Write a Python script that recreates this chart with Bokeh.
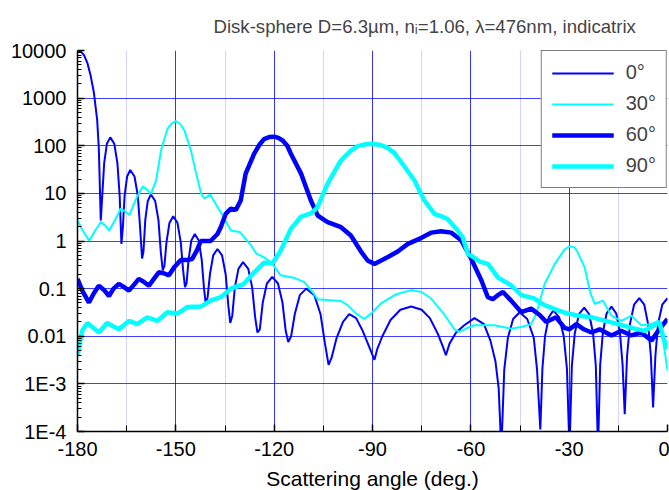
from bokeh.plotting import figure
from bokeh.models import Range1d, FixedTicker, CustomJSTickFormatter, Legend, LegendItem
from bokeh.embed import file_html
from bokeh.resources import INLINE

# ---------------- data ----------------
ang0 = [-180, -179, -178, -177, -176, -175, -174, -173.5, -172.9,
        -172.44, -171.86, -171.04, -170.0, -168.78, -167.82, -167.14, -166.6,
        -166.17, -165.63, -164.87, -163.9, -162.6, -161.6, -160.9, -160.3,
        -159.87, -159.33, -158.57, -157.6, -156.3, -155.3, -154.6, -154.0,
        -153.49, -152.85, -151.95, -150.8, -149.5, -148.5, -147.8, -147.2,
        -146.72, -146.12, -145.28, -144.2, -143.0, -142.1, -141.4, -140.9,
        -140.32, -139.6, -138.6, -137.3, -135.9, -134.8, -134.0, -133.4,
        -132.78, -132.0, -130.9, -129.5, -127.9, -126.7, -125.8, -125.1,
        -124.38, -123.48, -122.22, -120.6, -118.84, -117.46, -116.48, -115.7,
        -114.82, -113.72, -112.18, -110.2, -107.75, -105.85, -104.5, -103.4,
        -102.5, -101.0, -99.0, -97.1, -95.0, -93.0, -91.0, -89.4,
        -88.5, -87.0, -84.5, -81.5, -78.2, -75.0, -72.5, -70.0, -68.5, -67.6,
        -66.5, -64.5, -62.0, -58.9, -56.0, -54.0, -52.5, -51.5, -50.7,
        -49.8, -48.7, -47.1, -45.1, -42.8, -40.8, -39.8, -38.8,
        -38.16, -37.36, -36.24, -34.8, -33.04, -31.66, -30.68, -29.9,
        -29.18, -28.28, -27.02, -25.4, -23.89, -22.71, -21.87, -21.2,
        -20.54, -19.72, -18.58, -17.1, -15.64, -14.51, -13.7, -13.05,
        -12.34, -11.45, -10.2, -8.6, -7.09, -5.91, -5.07, -4.4,
        -3.7, -2.9, -1.6, 0]
val0 = [10000, 9500, 8000, 5500, 3000, 1300, 350, 90, 2.7,
        9, 43, 110, 150, 110, 43, 9, 0.87,
        1.9, 9, 22.6, 31, 22.6, 9, 1.9, 0.43,
        0.6, 2.75, 6.9, 9.5, 6.9, 2.75, 0.6, 0.24,
        0.3, 0.95, 2.4, 3.3, 2.4, 0.95, 0.25, 0.107,
        0.13, 0.4, 1.02, 1.4, 1.02, 0.4, 0.1, 0.05,
        0.065, 0.2, 0.5, 0.68, 0.5, 0.2, 0.045, 0.019,
        0.027, 0.105, 0.26, 0.36, 0.26, 0.105, 0.025, 0.012,
        0.014, 0.051, 0.128, 0.176, 0.128, 0.051, 0.013, 0.0076,
        0.01, 0.029, 0.073, 0.1, 0.073, 0.029, 0.007, 0.0025,
        0.0035, 0.009, 0.02, 0.029, 0.024, 0.013, 0.006, 0.0032,
        0.0055, 0.01, 0.022, 0.036, 0.042, 0.036, 0.024, 0.011, 0.006, 0.004,
        0.007, 0.012, 0.017, 0.024, 0.018, 0.008, 0.003, 0.0008, 0.00004,
        0.002, 0.0093, 0.023, 0.032, 0.023, 0.0093, 0.002, 0.00011,
        0.0021, 0.01, 0.025, 0.035, 0.025, 0.01, 0.0021, 0.00004,
        0.0024, 0.0116, 0.029, 0.04, 0.029, 0.0116, 0.0024, 0.00004,
        0.0025, 0.012, 0.03, 0.042, 0.03, 0.012, 0.0025, 0.00023,
        0.0038, 0.018, 0.046, 0.063, 0.046, 0.018, 0.0038, 0.00032,
        0.0038, 0.018, 0.046, 0.063]

ang30 = [-180, -178.5, -176.4, -174.5, -172.9, -171.5, -170.3, -168.5, -166.8, -165.5,
         -164.2, -162, -160.1, -158.8, -157.6, -156, -154.5, -153.5, -152.5, -151.2,
         -150, -148.7, -147.4, -146.4, -145.4, -143.8, -142.3, -141.3, -139.5, -137.5,
         -135.8, -133.2, -130.5, -127.0, -125.5, -123.0, -121.0, -118.0, -114.0, -110.8,
         -108.0, -106.8, -102.7, -99.6, -97.6, -95.0, -92.5, -90.0, -87.4, -83.0,
         -78.2, -75.0, -72.1, -68.0, -65.0, -63.5, -61.0, -58.9, -52.8, -47.7,
         -44.0, -41.6, -40.0, -37.5, -34.4, -31.5, -30.4, -29.3, -28.3, -27.5,
         -25.3, -23.5, -22.2, -19.7, -17.1, -14.1, -11.0, -8.0, -4.9, -2.9,
         -1.3, 0]
val30 = [2.7, 1.7, 1.02, 1.7, 2.5, 2.1, 1.66, 2.8, 4.8, 4.2,
         3.5, 8, 14, 12, 9.8, 19, 80, 140, 230, 300,
         330, 290, 210, 130, 80, 26, 10, 7.8, 9.4, 5.5,
         3.5, 1.66, 1.55, 0.8, 0.55, 0.45, 0.36, 0.19, 0.17, 0.137,
         0.08, 0.06, 0.057, 0.055, 0.045, 0.03, 0.023, 0.032, 0.049, 0.075,
         0.093, 0.085, 0.062, 0.028, 0.014, 0.0123, 0.015, 0.017, 0.017, 0.0144,
         0.016, 0.018, 0.03, 0.126, 0.33, 0.65, 0.74, 0.77, 0.72, 0.6,
         0.28, 0.08, 0.048, 0.056, 0.027, 0.021, 0.027, 0.017, 0.018, 0.021,
         0.008, 0.0019]

ang60 = [-180, -178.5, -176.5, -175, -173.5, -172, -170.4, -169, -167.4, -166,
         -164.3, -162.8, -161.3, -159.8, -158.2, -156.7, -155.2, -153.7, -152.1, -150.5,
         -148.5, -146.5, -145, -143.5, -142.4, -139.4, -137.3, -136.3, -134.8, -133.2,
         -131.7, -130.2, -128.7, -126.1, -124.5, -123.1, -121.5, -120, -118.7, -117.4,
         -116, -114.9, -111.8, -108.8, -106.7, -103.7, -99.6, -96.6, -93.5, -91.5,
         -89.4, -85.3, -82.3, -79.2, -75.2, -72, -69.1, -66, -63, -60,
         -56.8, -54.8, -53.3, -51.5, -50.2, -47.7, -44.6, -41.6, -39, -37,
         -34, -31.4, -29.9, -27.8, -25.5, -23.2, -20.7, -17.1, -14.1, -11,
         -8, -4.9, -2.5, 0]
val60 = [0.16, 0.09, 0.051, 0.08, 0.115, 0.095, 0.07, 0.1, 0.126, 0.11,
         0.091, 0.12, 0.16, 0.14, 0.115, 0.16, 0.22, 0.21, 0.19, 0.28,
         0.4, 0.4, 0.42, 0.65, 1.0, 1.0, 1.4, 1.95, 3.7, 4.8,
         4.5, 7.1, 26, 68, 105, 138, 152, 155, 146, 129,
         100, 68, 26, 7.1, 3.4, 2.5, 1.95, 1.3, 0.6, 0.39,
         0.33, 0.46, 0.6, 0.87, 1.15, 1.5, 1.6, 1.5, 1.05, 0.44,
         0.15, 0.066, 0.06, 0.075, 0.085, 0.056, 0.032, 0.038, 0.028, 0.02,
         0.025, 0.015, 0.014, 0.018, 0.014, 0.012, 0.014, 0.0104, 0.013, 0.0104,
         0.012, 0.0081, 0.014, 0.023]

ang90 = [-180, -178.6, -177, -175.2, -173.5, -171, -169, -167.4, -164.3, -161.8,
         -158.7, -155.6, -152.6, -149.5, -146.5, -142.4, -139.4, -136.3, -133.2, -129.2,
         -126.1, -123.1, -120.5, -118, -114.9, -111.9, -108.8, -106.8, -103.7, -100,
         -98.6, -96.5, -94.5, -92.3, -90, -87.7, -85.4, -83.3, -81.3, -77.2,
         -74.2, -71.1, -68.5, -67.1, -64, -62.5, -60.9, -59, -57.3, -54.8,
         -51.7, -47.7, -44.6, -40.6, -37.5, -33.4, -30.4, -27, -23, -19,
         -15, -11, -7, -4, -2.5, -1.2, 0]
val90 = [0.0039, 0.013, 0.019, 0.015, 0.012, 0.019, 0.016, 0.014, 0.021, 0.018,
         0.025, 0.021, 0.032, 0.03, 0.041, 0.042, 0.056, 0.066, 0.1, 0.126,
         0.22, 0.35, 0.34, 0.63, 1.8, 3.2, 3.8, 5.1, 16, 45,
         58, 80, 98, 107, 110, 104, 91, 70, 46, 18.6,
         7.1, 3.7, 3.2, 2.9, 1.66, 1.2, 0.54, 0.45, 0.37, 0.33,
         0.17, 0.117, 0.073, 0.062, 0.045, 0.035, 0.03, 0.027, 0.025, 0.021,
         0.018, 0.015, 0.013, 0.017, 0.02, 0.009, 0.0055]

series_names = ["0°", "30°", "60°", "90°"]
x_major = [-180, -150, -120, -90, -60, -30, 0]
x_minor = [-165, -135, -105, -75, -45, -15]
y_major = [1e-4, 1e-3, 1e-2, 1e-1, 1, 10, 100, 1000, 10000]
y_labels = ["1E-4", "1E-3", "0.01", "0.1", "1", "10", "100", "1000", "10000"]
y_minor = [m * 10.0 ** e for e in range(-4, 4) for m in range(2, 10)]

title_text = "Disk-sphere D=6.3\u00b5m, n\u1d62=1.06, \u03bb=476nm, indicatrix"
FONT = "Liberation Sans"

p = figure(frame_width=590, frame_height=381,
           x_range=Range1d(-180, 0), y_range=Range1d(1e-4, 1e4),
           y_axis_type="log", output_backend="svg", toolbar_location=None,
           min_border_left=77, min_border_top=50, min_border_right=2, min_border_bottom=10)

p.title.text = title_text
p.title.align = "left"
p.title.offset = 136
p.title.text_font = FONT
p.title.text_font_size = "18.6px"
p.title.text_font_style = "normal"
p.title.standoff = 27

p.outline_line_color = None
p.background_fill_color = "white"

p.xaxis.ticker = FixedTicker(ticks=x_major, minor_ticks=x_minor)
p.xaxis.formatter = CustomJSTickFormatter(code="return tick.toFixed(0);")
p.yaxis.ticker = FixedTicker(ticks=y_major, minor_ticks=y_minor)
p.yaxis.formatter = CustomJSTickFormatter(args=dict(labels=y_labels),
    code="const e = Math.round(Math.log10(tick)); return labels[e + 4];")

for ax in (p.xaxis[0], p.yaxis[0]):
    ax.axis_line_color = "black"
    ax.axis_line_width = 1.5
    ax.major_tick_line_color = "black"
    ax.major_tick_line_width = 1.5
    ax.minor_tick_line_color = "black"
    ax.minor_tick_line_width = 1
    ax.major_tick_in = 7
    ax.major_tick_out = 0
    ax.minor_tick_in = 4
    ax.minor_tick_out = 0
    ax.major_label_text_font = FONT
    ax.major_label_text_font_size = "20px"
    ax.major_label_text_color = "black"
p.xaxis.minor_tick_in = 6
p.xaxis.major_label_standoff = 10
p.yaxis.major_label_standoff = 11
p.xaxis.axis_label = "Scattering angle (deg.)"
p.xaxis.axis_label_text_font = FONT
p.xaxis.axis_label_text_font_size = "21px"
p.xaxis.axis_label_text_font_style = "normal"
p.xaxis.axis_label_text_color = "black"
p.xaxis.axis_label_standoff = 8

p.xgrid.grid_line_color = "blue"
p.xgrid.grid_line_alpha = 0.8
p.xgrid.grid_line_width = 1
p.xgrid.minor_grid_line_color = "#a6a6ff"
p.xgrid.minor_grid_line_dash = "1 1"
p.xgrid.minor_grid_line_width = 1
p.ygrid.grid_line_color = "blue"
p.ygrid.grid_line_alpha = 0.75
p.ygrid.grid_line_width = 1

r0 = p.line(ang0, val0, line_color="#0000FF", line_width=2)
r30 = p.line(ang30, val30, line_color="#00FFFF", line_width=2)
r60 = p.line(ang60, val60, line_color="#0000FF", line_width=4.5)
r90 = p.line(ang90, val90, line_color="#00FFFF", line_width=4.5)

legend = Legend(items=[LegendItem(label=n, renderers=[r]) for n, r in zip(series_names, [r0, r30, r60, r90])],
                location="top_right", margin=0, padding=10, spacing=8,
                glyph_width=62, glyph_height=20, label_height=20, label_standoff=12,
                label_text_font=FONT, label_text_font_size="20px",
                border_line_color="black", border_line_width=1.5,
                background_fill_color="white", background_fill_alpha=1.0)
p.add_layout(legend)

open("out.html", "w").write(file_html(p, INLINE))
